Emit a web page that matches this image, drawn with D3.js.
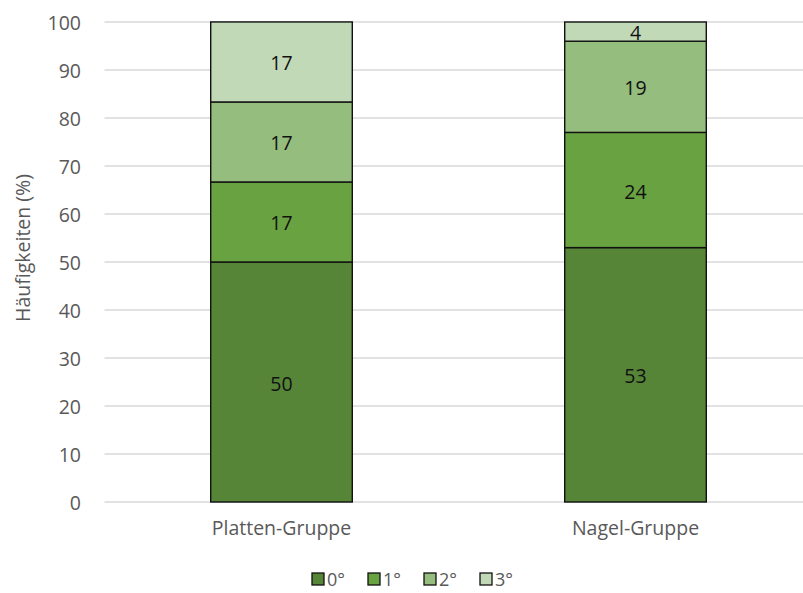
<!DOCTYPE html>
<html>
<head>
<meta charset="utf-8">
<script src="https://cdn.jsdelivr.net/npm/d3@7"></script>
<style>
  html, body { margin: 0; padding: 0; background: #fff; }
  svg { display: block; font-family: "Open Sans", sans-serif; }
</style>
</head>
<body>
<svg id="chart" width="803" height="593"></svg>
<script>
// Groups along the x axis
const categories = ["Platten-Gruppe", "Nagel-Gruppe"];
// Series (rotation degree) and their shares in percent per group
const seriesNames = ["0°", "1°", "2°", "3°"];
const values0 = [50, 53];
const values1 = [16.67, 24];
const values2 = [16.67, 19];
const values3 = [16.67, 4];
const seriesColors = ["#568537", "#69a241", "#94bd7e", "#c1d9b6"];
const yTicks = [0, 10, 20, 30, 40, 50, 60, 70, 80, 90, 100];
const yTitle = "Häufigkeiten (%)";

const FONT = "'Open Sans', sans-serif";
const FS = "19.5px";

const seriesValues = [values0, values1, values2, values3];
const rows = categories.map((c, i) => {
  const r = { category: c };
  seriesNames.forEach((s, k) => { r[s] = seriesValues[k][i]; });
  return r;
});

const svg = d3.select("#chart");
const x = d3.scaleBand().domain(categories).range([104.5, 812.5])
  .paddingInner(0.6).paddingOuter(0.3);
const y = d3.scaleLinear().domain([0, 100]).range([502, 22]);
const color = d3.scaleOrdinal().domain(seriesNames).range(seriesColors);

// Horizontal gridlines
svg.append("g").selectAll("line").data(yTicks).join("line")
  .attr("x1", 104.5).attr("x2", 803)
  .attr("y1", d => y(d)).attr("y2", d => y(d))
  .attr("stroke", "#d9d9d9").attr("stroke-width", 1.3);

// Y axis tick labels
const yAxis = d3.axisLeft(y).tickValues(yTicks).tickSize(0).tickPadding(0);
const gy = svg.append("g").attr("transform", "translate(81,1)").call(yAxis);
gy.select(".domain").remove();
gy.selectAll("text").attr("fill", "#595959").style("font-size", FS)
  .style("font-family", FONT);

// Y axis title
svg.append("text")
  .attr("transform", "translate(25,248) rotate(-90)")
  .attr("text-anchor", "middle").attr("dominant-baseline", "middle")
  .attr("fill", "#595959").style("font-size", FS)
  .text(yTitle);

// Stacked bars
const stack = d3.stack().keys(seriesNames);
const layers = stack(rows);
const gBars = svg.append("g");
layers.forEach(layer => {
  const g = gBars.append("g");
  g.selectAll("rect").data(layer).join("rect")
    .attr("x", d => x(d.data.category))
    .attr("width", x.bandwidth())
    .attr("y", d => y(d[1]))
    .attr("height", d => y(d[0]) - y(d[1]))
    .attr("fill", color(layer.key))
    .attr("stroke", "#111").attr("stroke-width", 1.4);
  g.selectAll("text").data(layer).join("text")
    .attr("x", d => x(d.data.category) + x.bandwidth() / 2)
    .attr("y", d => (y(d[0]) + y(d[1])) / 2 + 1)
    .attr("text-anchor", "middle").attr("dominant-baseline", "central")
    .attr("fill", "#111").style("font-size", FS)
    .text(d => Math.round(d[1] - d[0]));
});

// X axis category labels
const xAxis = d3.axisBottom(x).tickSize(0).tickPadding(0);
const gx = svg.append("g").attr("transform", "translate(0,521)").call(xAxis);
gx.select(".domain").remove();
gx.selectAll("text").attr("fill", "#595959").style("font-size", FS)
  .style("font-family", FONT);

// Legend
const legend = svg.append("g").attr("transform", "translate(312,573)");
const items = legend.selectAll("g").data(seriesNames).join("g")
  .attr("transform", (d, i) => `translate(${i * 56},0)`);
items.append("rect").attr("width", 12).attr("height", 12)
  .attr("fill", d => color(d)).attr("stroke", "#111").attr("stroke-width", 1.3);
items.append("text").attr("x", 15).attr("y", 6)
  .attr("dominant-baseline", "central").attr("fill", "#595959")
  .style("font-size", "18px").text(d => d);
</script>
</body>
</html>
